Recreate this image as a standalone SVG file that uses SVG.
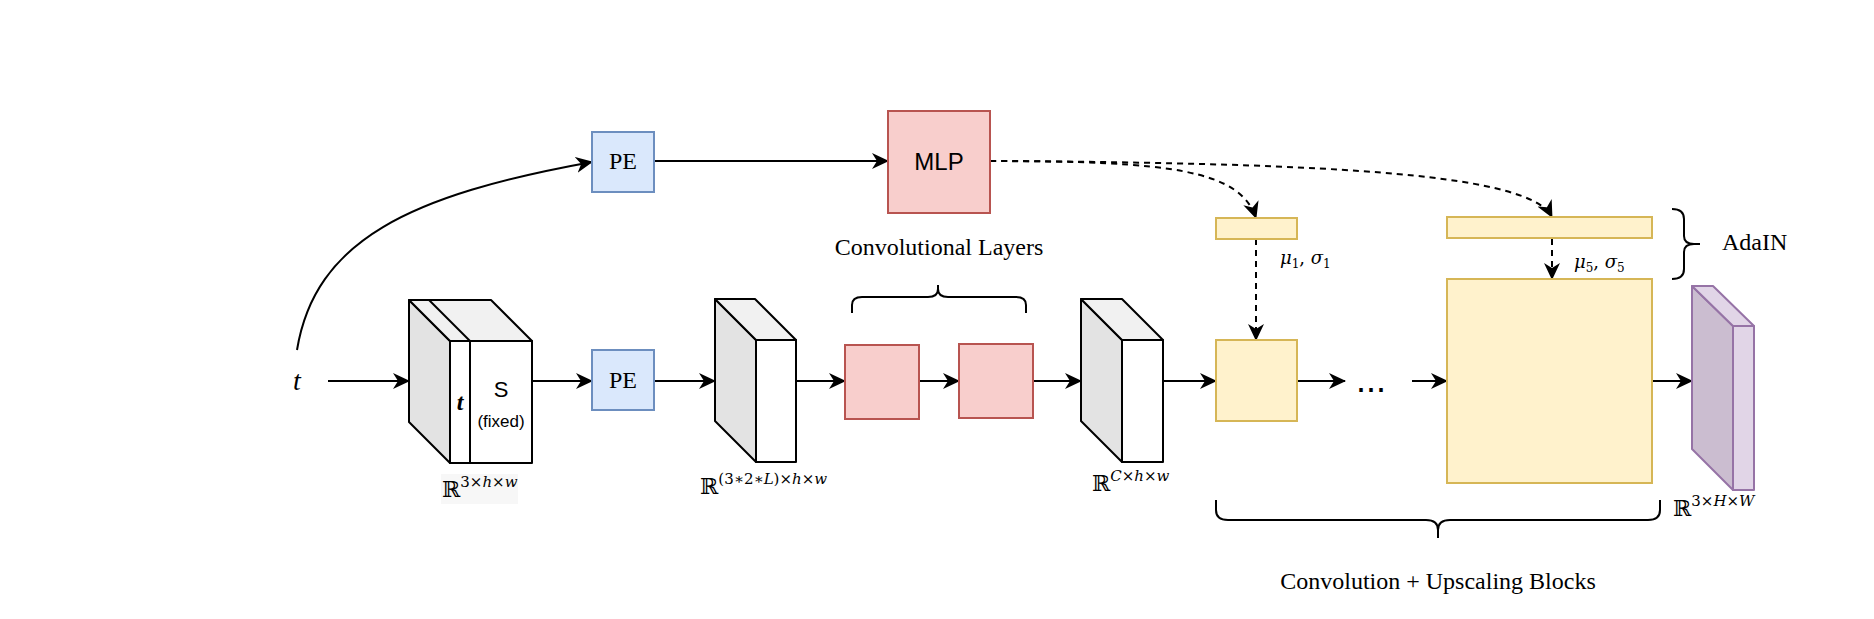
<svg xmlns="http://www.w3.org/2000/svg" width="1874" height="619" viewBox="0 0 1874 619">
<style>
.serif{font-family:"Liberation Serif","Times New Roman",serif;fill:#000}
.sans{font-family:"Liberation Sans",Arial,sans-serif;fill:#000}
.math{font-family:"DejaVu Serif","Liberation Serif",serif;fill:#000}
.ln{fill:none;stroke:#000;stroke-width:2}
.dash{fill:none;stroke:#000;stroke-width:2;stroke-dasharray:6 5}
.blue{fill:#dae8fc;stroke:#6c8ebf;stroke-width:2}
.red{fill:#f8cecc;stroke:#b85450;stroke-width:2}
.yel{fill:#fff2cc;stroke:#d6b656;stroke-width:2}
.cf{fill:#ffffff;stroke:#000;stroke-width:2;stroke-linejoin:round}
.cs{fill:#e3e3e3;stroke:#000;stroke-width:2;stroke-linejoin:round}
.ct{fill:#f1f1f1;stroke:#000;stroke-width:2;stroke-linejoin:round}
.pf{fill:#e1d5e7;stroke:#9673a6;stroke-width:2;stroke-linejoin:round}
.ps{fill:#cbbdd0;stroke:#9673a6;stroke-width:2;stroke-linejoin:round}
</style>
<defs>
<marker id="arr" markerUnits="userSpaceOnUse" viewBox="0 0 17 16" refX="16" refY="8" markerWidth="17" markerHeight="16" orient="auto">
<path d="M0,0 L17,8 L0,16 L5,8 z" fill="#000" stroke="none"/>
</marker>
</defs>
<rect width="1874" height="619" fill="#fff"/>

<g id="connectors">
<path class="ln" d="M297,350 C315,240 410,195 592,162" marker-end="url(#arr)"/>
<path class="ln" d="M328,381 L409,381" marker-end="url(#arr)"/>
<path class="ln" d="M532,381 L592,381" marker-end="url(#arr)"/>
<path class="ln" d="M654,161 L888,161" marker-end="url(#arr)"/>
<path class="ln" d="M654,381 L715,381" marker-end="url(#arr)"/>
<path class="ln" d="M796,381 L845,381" marker-end="url(#arr)"/>
<path class="ln" d="M919,381 L959,381" marker-end="url(#arr)"/>
<path class="ln" d="M1033,381 L1081,381" marker-end="url(#arr)"/>
<path class="ln" d="M1163,381 L1216,381" marker-end="url(#arr)"/>
<path class="ln" d="M1297,381 L1345,381" marker-end="url(#arr)"/>
<path class="ln" d="M1412,381 L1447,381" marker-end="url(#arr)"/>
<path class="ln" d="M1652,381 L1692,381" marker-end="url(#arr)"/>
<path class="dash" d="M990,161 C1170,161 1240,170 1256,218" marker-end="url(#arr)"/>
<path class="dash" d="M990,161 C1350,163 1530,175 1552,217" marker-end="url(#arr)"/>
<path class="dash" d="M1256,239 L1256,340" marker-end="url(#arr)"/>
<path class="dash" d="M1552,239 L1552,279" marker-end="url(#arr)"/>
</g>

<g id="t-input"><text class="serif" x="297" y="390" font-size="28" font-style="italic" text-anchor="middle">t</text></g>

<g id="pe-top"><rect class="blue" x="592" y="132" width="62" height="60"/><text class="serif" x="623" y="169" font-size="24" text-anchor="middle">PE</text></g>
<g id="mlp"><rect class="red" x="888" y="111" width="102" height="102"/><text class="sans" x="939" y="170" font-size="24" text-anchor="middle">MLP</text></g>

<g id="cube-input">
<polygon class="cs" points="409,300 450,341 450,463 409,422"/>
<polygon class="ct" points="409,300 491,300 532,341 450,341"/>
<line class="ln" x1="429" y1="300" x2="470" y2="341"/>
<rect class="cf" x="450" y="341" width="82" height="122"/>
<line class="ln" x1="470" y1="341" x2="470" y2="463"/>
<text class="serif" x="460" y="410" font-size="24" font-style="italic" font-weight="bold" text-anchor="middle">t</text>
<text class="sans" x="501" y="397" font-size="22" text-anchor="middle">S</text>
<text class="sans" x="501" y="427" font-size="17" text-anchor="middle">(fixed)</text>
<rect x="441" y="474" width="77" height="30" fill="#f7f7f7"/>
<text class="math" x="442" y="497" font-size="22">ℝ<tspan font-size="15" dy="-10">3×<tspan font-style="italic">h</tspan>×<tspan font-style="italic">w</tspan></tspan></text>
</g>

<g id="pe-bottom"><rect class="blue" x="592" y="350" width="62" height="60"/><text class="serif" x="623" y="388" font-size="24" text-anchor="middle">PE</text></g>

<g id="cube-pe">
<polygon class="cs" points="715,299 756,340 756,462 715,421"/>
<polygon class="ct" points="715,299 755,299 796,340 756,340"/>
<rect class="cf" x="756" y="340" width="40" height="122"/>
<text class="math" x="700" y="494" font-size="22">ℝ<tspan font-size="15" dy="-10">(3∗2∗<tspan font-style="italic">L</tspan>)×<tspan font-style="italic">h</tspan>×<tspan font-style="italic">w</tspan></tspan></text>
</g>

<g id="conv1"><rect class="red" x="845" y="345" width="74" height="74"/></g>
<g id="conv2"><rect class="red" x="959" y="344" width="74" height="74"/></g>
<g id="conv-brace">
<path class="ln" d="M852,313 L852,305 Q852,297 862,297 L928,297 Q938,297 938,289 L938,285 M938,289 Q938,297 948,297 L1016,297 Q1026,297 1026,305 L1026,313"/>
<text class="serif" x="939" y="255" font-size="24" text-anchor="middle">Convolutional Layers</text>
</g>

<g id="cube-feat">
<polygon class="cs" points="1081,299 1122,340 1122,462 1081,421"/>
<polygon class="ct" points="1081,299 1122,299 1163,340 1122,340"/>
<rect class="cf" x="1122" y="340" width="41" height="122"/>
<text class="math" x="1092" y="491" font-size="22">ℝ<tspan font-size="15" dy="-10"><tspan font-style="italic">C</tspan>×<tspan font-style="italic">h</tspan>×<tspan font-style="italic">w</tspan></tspan></text>
</g>

<g id="adain1"><rect class="yel" x="1216" y="218" width="81" height="21"/>
<text class="math" x="1280" y="264" font-size="18"><tspan font-style="italic">μ</tspan><tspan font-size="12" dy="4">1</tspan><tspan dy="-4">, </tspan><tspan font-style="italic">σ</tspan><tspan font-size="12" dy="4">1</tspan></text></g>
<g id="block1"><rect class="yel" x="1216" y="340" width="81" height="81"/></g>
<g id="ellipsis"><text class="sans" x="1371" y="392" font-size="36" text-anchor="middle">...</text></g>
<g id="adain5"><rect class="yel" x="1447" y="217" width="205" height="21"/>
<text class="math" x="1574" y="268" font-size="18"><tspan font-style="italic">μ</tspan><tspan font-size="12" dy="4">5</tspan><tspan dy="-4">, </tspan><tspan font-style="italic">σ</tspan><tspan font-size="12" dy="4">5</tspan></text></g>
<g id="block5"><rect class="yel" x="1447" y="279" width="205" height="204"/></g>

<g id="adain-brace">
<path class="ln" d="M1672,209 Q1684,209 1684,219 L1684,236 Q1684,244 1694,244 L1700,244 M1694,244 Q1684,244 1684,252 L1684,269 Q1684,279 1672,279"/>
<text class="serif" x="1722" y="250" font-size="24">AdaIN</text>
</g>

<g id="output">
<polygon class="ps" points="1692,286 1733,326 1733,490 1692,449"/>
<polygon class="pf" points="1692,286 1713,286 1754,326 1733,326"/>
<rect class="pf" x="1733" y="326" width="21" height="164"/>
<text class="math" x="1673" y="516" font-size="22">ℝ<tspan font-size="15" dy="-10">3×<tspan font-style="italic">H</tspan>×<tspan font-style="italic">W</tspan></tspan></text>
</g>

<g id="blocks-brace">
<path class="ln" d="M1216,500 L1216,510 Q1216,520 1228,520 L1426,520 Q1438,520 1438,530 L1438,538 M1438,530 Q1438,520 1450,520 L1648,520 Q1660,520 1660,510 L1660,500"/>
<text class="serif" x="1438" y="589" font-size="24" text-anchor="middle">Convolution + Upscaling Blocks</text>
</g>
</svg>
